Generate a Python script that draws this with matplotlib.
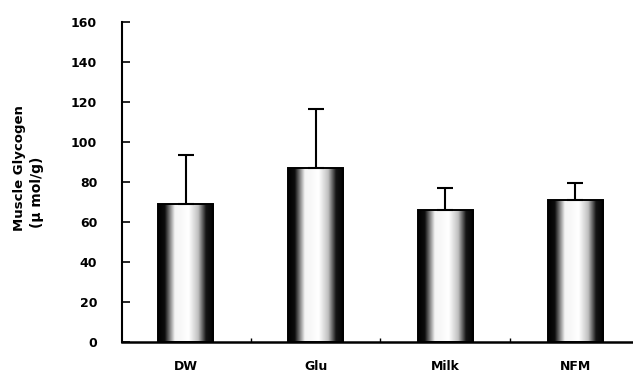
import numpy as np
import matplotlib
matplotlib.use("Agg")
import matplotlib.pyplot as plt

plt.rcParams["font.family"] = ["DejaVu Sans"]

# data
groups = ["DW", "Glu", "Milk", "NFM"]
glycogen = [69, 87, 66, 71]
sd_upper = [24.5, 29.5, 11, 8.5]

fig = plt.figure(figsize=(6.33, 3.8), dpi=100)
ax = fig.add_axes([0.193, 0.1, 0.81, 0.842])

x = np.arange(len(groups))
bars = ax.bar(x, glycogen, width=0.425, color="none", edgecolor="black",
              linewidth=1.4, zorder=3)

# cylinder-like shading inside each bar
prof_x = [0.0, 0.12, 0.30, 0.55, 0.72, 0.86, 1.0]
prof_v = [0.0, 0.05, 0.95, 1.0, 0.75, 0.08, 0.0]
shade = np.interp(np.linspace(0, 1, 200), prof_x, prof_v)[np.newaxis, :]
for b in bars:
    x0, y0 = b.get_x(), b.get_y()
    im = ax.imshow(shade, cmap="gray", vmin=0, vmax=1, aspect="auto",
                   extent=(x0, x0 + b.get_width(), y0, y0 + b.get_height()),
                   zorder=2, interpolation="bilinear")
    im.set_clip_path(b)

ax.errorbar(x, glycogen, yerr=[np.zeros(len(sd_upper)), sd_upper], fmt="none",
            ecolor="black", elinewidth=1.5, capsize=6, capthick=1.5, zorder=4)

ax.set_xlim(-0.49, 3.46)
ax.set_ylim(0, 160)
ax.set_yticks(np.arange(0, 161, 20))
ax.set_xticks(x)
ax.set_xticklabels(groups, fontsize=9, fontweight="bold")
ax.set_xticks(x[:-1] + 0.5, minor=True)
ax.tick_params(axis="x", which="major", length=0, pad=13)
ax.tick_params(axis="x", which="minor", direction="in", length=3, width=1)
ax.tick_params(axis="y", direction="in", length=6, width=1.2, pad=18,
               labelsize=9)
for lab in ax.get_yticklabels():
    lab.set_fontweight("bold")

for s in ["top", "right"]:
    ax.spines[s].set_visible(False)
ax.spines["left"].set_linewidth(1.5)
ax.spines["bottom"].set_linewidth(1.8)
ax.spines["bottom"].set_zorder(5)

fig.text(20 / 633, 1 - 231 / 380, "Muscle Glycogen", rotation=90,
         ha="center", va="bottom", fontsize=9.5, fontweight="bold")
fig.text(37 / 633, 1 - 228 / 380, "(\u03bc mol/g)", rotation=90,
         ha="center", va="bottom", fontsize=10, fontweight="bold")

fig.savefig("out.png", dpi=100, facecolor="white")
